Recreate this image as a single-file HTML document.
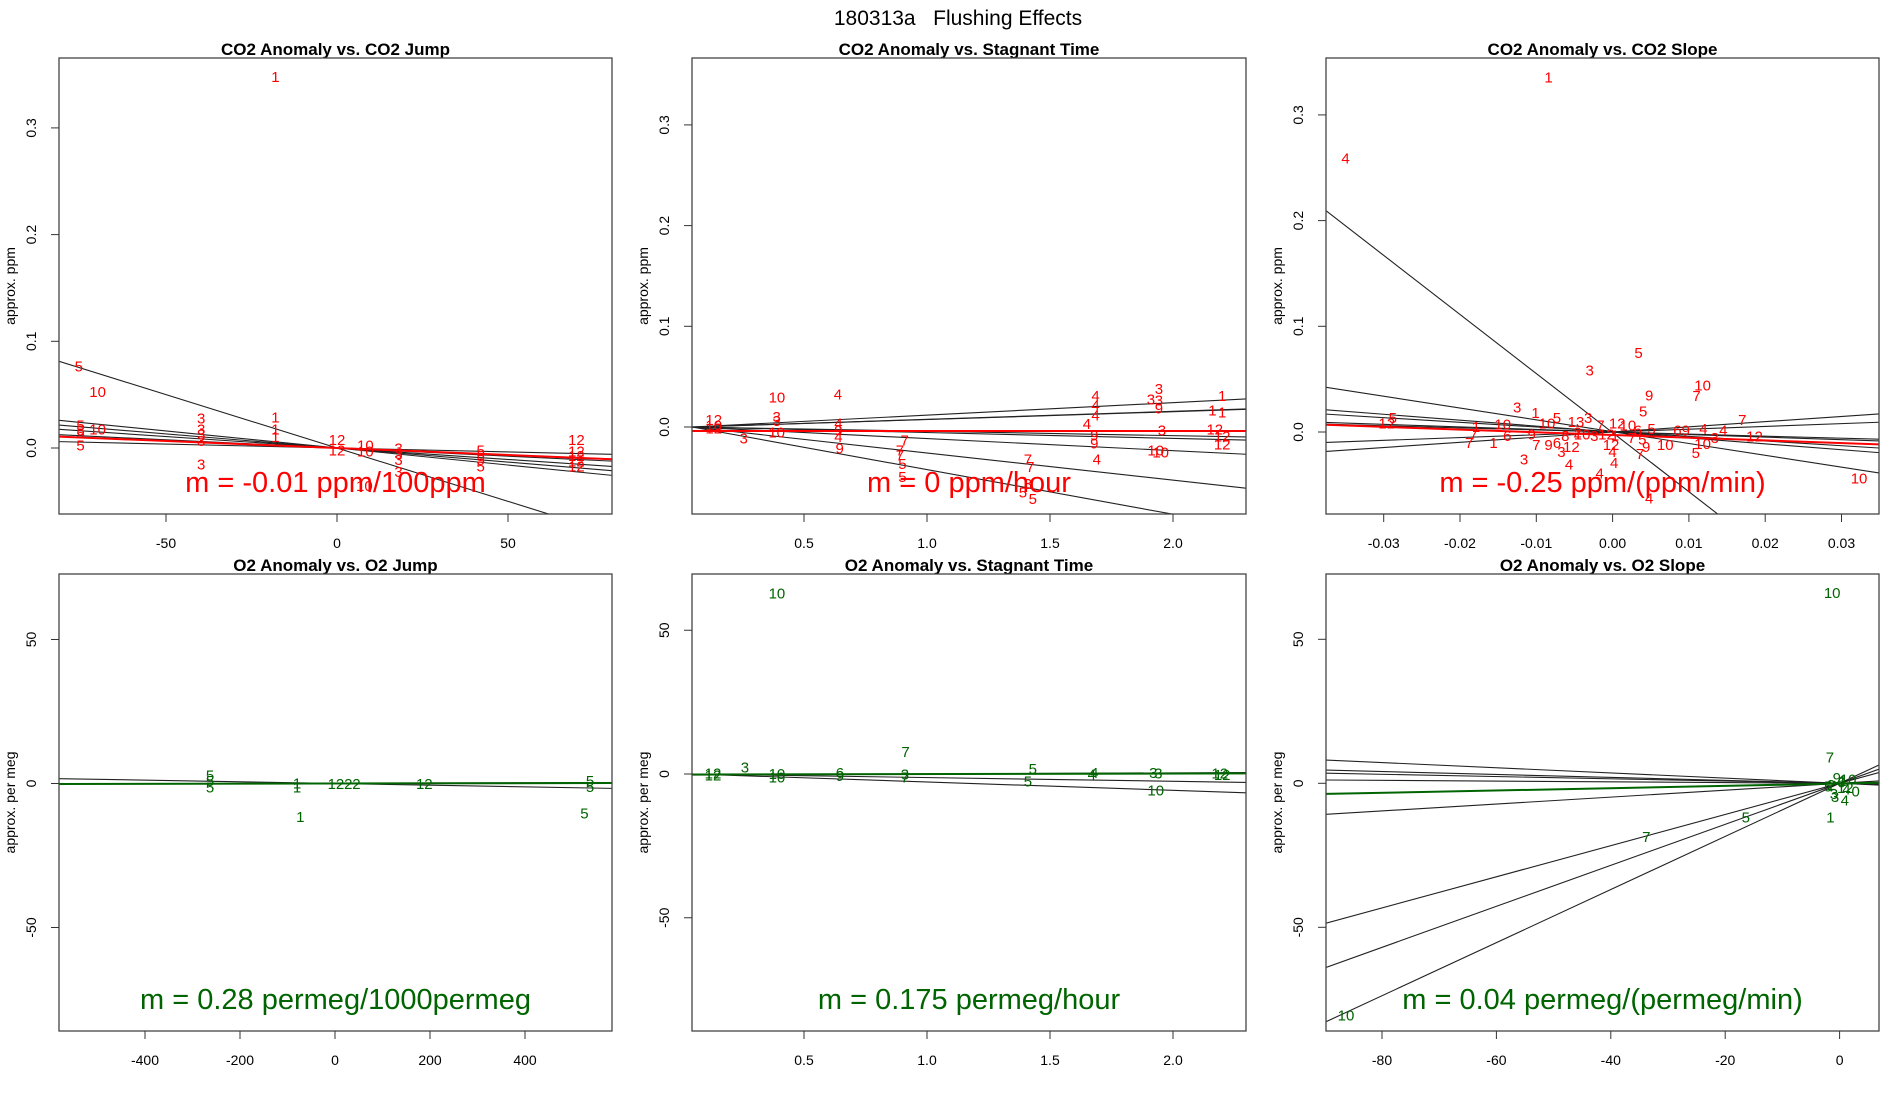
<!DOCTYPE html>
<html><head><meta charset="utf-8"><style>
html,body{margin:0;padding:0;background:#fff;}
svg{display:block;font-family:"Liberation Sans",sans-serif;}
</style></head><body>
<svg id="chart" width="1900" height="1100" viewBox="0 0 1900 1100">
<text x="958" y="25" text-anchor="middle" font-size="21" fill="#000" xml:space="preserve" style="white-space:pre">180313a   Flushing Effects</text>
</svg>
<script>
// ---------- Panel 1: CO2 Anomaly vs CO2 Jump ----------
const p1Labels=["1","5","10","5","3","10","5","5","3","3","3","3","3","1","1","1","12","12","10","10","3","3","3","3","10","5","5","5","5","12","12","12","12","12"];
const p1X=[-18,-75.5,-70,-75,-75,-70,-75,-75,-39.7,-39.7,-39.7,-39.7,-39.7,-18,-18,-18,0,0,8.3,8.3,18,18,18,18,8,42,42,42,42,70,70,70,70,70];
const p1Y=[0.348,0.077,0.053,0.0215,0.017,0.018,0.014,0.003,0.028,0.018,0.013,0.007,-0.015,0.029,0.018,0.011,0.008,-0.002,0.003,-0.003,0,-0.005,-0.011,-0.022,-0.035,-0.002,-0.007,-0.011,-0.017,0.008,-0.003,-0.007,-0.012,-0.017];
const p1LineSlopes=[-0.001,-0.000319,-0.000264,-0.000215,-0.000153,-0.0000736];
const p1LineInts=[0,0,0,0,0,0];
const p1FitSlope=-0.000131, p1FitInt=0;
const p1XTicks=[-50,0,50], p1YTicks=[0,0.1,0.2,0.3];
const p1YTickLabels=["0.0","0.1","0.2","0.3"];

// ---------- Panel 2: CO2 Anomaly vs Stagnant Time ----------
const p2Labels=["12","12","10","3","10","3","3","10","4","4","9","4","9","7","7","7","5","5","7","7","5","5","3","4","4","4","4","9","9","4","3","3","3","9","3","10","10","1","1","1","12","12","12"];
const p2X=[0.133,0.133,0.133,0.255,0.39,0.389,0.389,0.389,0.638,0.64,0.64,0.64,0.645,0.909,0.89,0.89,0.9,0.9,1.41,1.42,1.39,1.43,1.41,1.685,1.685,1.685,1.65,1.68,1.68,1.69,1.943,1.91,1.943,1.943,1.955,1.93,1.95,2.2,2.16,2.2,2.17,2.2,2.2];
const p2Y=[0.0076,-0.001,0.002,-0.011,0.03,0.0106,0.0066,-0.005,0.033,0.004,-0.003,-0.0096,-0.021,-0.013,-0.023,-0.028,-0.036,-0.049,-0.032,-0.039,-0.0645,-0.071,-0.056,0.0315,0.0216,0.0117,0.0035,-0.008,-0.016,-0.032,0.038,0.028,0.027,0.019,-0.003,-0.023,-0.025,0.0315,0.0168,0.015,-0.002,-0.009,-0.017];
const p2LineSlopes=[0.0124,0.008,0.0078,-0.0044,-0.0058,-0.012,-0.027,-0.0443];
const p2LineInts=[-0.0006,-0.0004,-0.0004,0.0002,0.0003,0.0005,0.0012,0.002];
const p2FitSlope=0, p2FitInt=-0.004;
const p2XTicks=[0.5,1.0,1.5,2.0], p2XTickLabels=["0.5","1.0","1.5","2.0"];
const p2YTicks=[0,0.1,0.2,0.3], p2YTickLabels=["0.0","0.1","0.2","0.3"];

// ---------- Panel 3: CO2 Anomaly vs CO2 Slope ----------
const p3Labels=["1","4","5","3","10","7","9","5","3","1","10","5","12","7","4","4","12","3","10","5","10","4","4","4","4","3","1","7","7","1","6","9","7","9","6","3","12","10","5","13","3","7","12","10","6","5","6","9","10","3","12","1","7","5","10","12","4","7","9","8","2"];
const p3X=[-0.0084,-0.035,0.0034,-0.003,0.0118,0.011,0.0048,0.004,-0.0125,-0.0101,-0.0144,-0.0288,-0.0296,0.017,0.0119,0.0145,0.0186,0.0134,0.0118,0.0109,0.0323,0.0048,-0.0017,-0.0057,0.0002,-0.0116,-0.0179,-0.0182,-0.0188,-0.0156,-0.0138,-0.0106,-0.01,-0.0084,-0.0073,-0.0067,-0.0054,-0.0086,-0.0073,-0.0048,-0.0032,-0.0016,0.0006,0.002,0.0033,0.0051,0.0085,0.0096,-0.004,-0.0024,-0.0008,0.0003,0.0025,0.0039,0.0069,-0.0002,0,0.0036,0.0044,-0.0062,-0.0046];
const p3Y=[0.336,0.259,0.0754,0.0585,0.0446,0.0345,0.0348,0.02,0.0237,0.0186,0.0074,0.0135,0.0085,0.0118,0.0034,0.0017,-0.004,-0.005,-0.0108,-0.0196,-0.0433,-0.0625,-0.0389,-0.0304,-0.0287,-0.0254,0.005,-0.0017,-0.0101,-0.0101,-0.0034,-0.0017,-0.0118,-0.0118,-0.0101,-0.0186,-0.0135,0.0085,0.0135,0.0101,0.0135,0.0068,0.0085,0.0068,0.0017,0.0034,0.0017,0.0017,-0.0017,-0.0034,-0.0017,-0.0027,-0.005,-0.0068,-0.0118,-0.0118,-0.0186,-0.0203,-0.0135,-0.0034,0];
const p3LineSlopes=[-5.59,-1.118,-0.559,-0.442,-0.242,-0.196,0.264,0.489];
const p3LineInts=[-0.0006,0.0003,0,0.0003,0,0,0,0];
const p3FitSlope=-0.256, p3FitInt=-0.0028;
const p3XTicks=[-0.03,-0.02,-0.01,0,0.01,0.02,0.03], p3XTickLabels=["-0.03","-0.02","-0.01","0.00","0.01","0.02","0.03"];
const p3YTicks=[0,0.1,0.2,0.3], p3YTickLabels=["0.0","0.1","0.2","0.3"];

// ---------- Panel 4: O2 Anomaly vs O2 Jump ----------
const p4Labels=["5","5","5","1","1","1","12","2","2","12","5","5","5"];
const p4X=[-263,-263,-263,-80,-80,-73,2,28,45,188,537,537,525];
const p4Y=[3.0,1.1,-1.2,0.2,-1.2,-11.5,0,0,0,0,1,-1,-10.3];
const p4LineSlopes=[-0.0029,0.0004];
const p4LineInts=[0,0.1];
const p4FitSlope=0.00028, p4FitInt=0;
const p4XTicks=[-400,-200,0,200,400], p4XTickLabels=["-400","-200","0","200","400"];
const p4YTicks=[-50,0,50], p4YTickLabels=["-50","0","50"];

// ---------- Panel 5: O2 Anomaly vs Stagnant Time ----------
const p5Labels=["10","7","3","12","12","10","10","6","9","7","3","5","5","4","4","3","3","10","12","12"];
const p5X=[0.39,0.913,0.26,0.13,0.13,0.39,0.39,0.646,0.646,0.91,0.91,1.43,1.41,1.67,1.68,1.92,1.94,1.93,2.19,2.2];
const p5Y=[63,7.9,2.5,-0.4,0.4,-1.0,0.2,0.5,-0.5,-1,0,2.0,-2.5,0,0.6,0.5,0.3,-5.6,0.3,-0.2];
const p5LineSlopes=[-1.3,-2.9,0.4,0.1];
const p5LineInts=[0.06,0.13,-0.4,-0.1];
const p5FitSlope=0.175, p5FitInt=-0.2;
const p5XTicks=[0.5,1.0,1.5,2.0], p5XTickLabels=["0.5","1.0","1.5","2.0"];
const p5YTicks=[-50,0,50], p5YTickLabels=["-50","0","50"];

// ---------- Panel 6: O2 Anomaly vs O2 Slope ----------
const p6Labels=["10","7","5","7","1","10","4","10","3","5","6","9","12","2","1","3","4","0"];
const p6X=[-1.3,-1.7,-16.4,-33.8,-1.6,-86.3,0.9,1.5,-1.0,-2.0,0.3,-0.5,1.0,-1.5,0.5,-0.8,1.2,2.8];
const p6Y=[66.2,9.2,-11.7,-18.5,-11.7,-80.5,-5.8,1.5,-3.5,-1.0,0.5,2.0,-1.5,-0.5,1.0,-4.5,-2,-2.7];
const p6LineSlopes=[-0.09,-0.051,-0.039,-0.0128,0.12,0.541,0.712,0.922];
const p6LineInts=[0,0,0,0,0,0,0,0];
const p6FitSlope=0.04, p6FitInt=-0.1;
const p6XTicks=[-80,-60,-40,-20,0], p6XTickLabels=["-80","-60","-40","-20","0"];
const p6YTicks=[-50,0,50], p6YTickLabels=["-50","0","50"];

const NS="http://www.w3.org/2000/svg";
const svg=document.getElementById('chart');
function mk(tag,attrs,parent){const e=document.createElementNS(NS,tag);for(const k in attrs)e.setAttribute(k,attrs[k]);(parent||svg).appendChild(e);return e;}

function makePanel(cfg){
  const g=mk('g',{});
  
  
  const sx=v=>cfg.x0px+(v-cfg.x0v)*cfg.xk;
  const sy=v=>cfg.y0px-(v-cfg.y0v)*cfg.yk;
  const inv=px=>cfg.x0v+(px-cfg.x0px)/cfg.xk;
  const clipId='clip-'+cfg.name;
  const cp=mk('clipPath',{id:clipId},g);
  mk('rect',{x:cfg.L,y:cfg.T,width:cfg.R-cfg.L,height:cfg.B-cfg.T},cp);
  const t=mk('text',{x:(cfg.L+cfg.R)/2,y:cfg.T-3,'text-anchor':'middle','font-size':17,'font-weight':'bold'},g);
  t.textContent=cfg.title;
  
  
  const yx=cfg.L-44, ym=(cfg.T+cfg.B)/2;
  const yt=mk('text',{x:yx,y:ym,'text-anchor':'middle','font-size':14,transform:`rotate(-90 ${yx} ${ym})`},g);
  yt.textContent=cfg.ylab;
  
  
  const lg=mk('g',{'clip-path':`url(#${clipId})`},g);
  const xa=inv(cfg.L), xb=inv(cfg.R);
  cfg.slopes.forEach((s,i)=>{
    const b=cfg.ints[i];
    const l=mk('line',{x1:sx(xa),y1:sy(b+s*xa),x2:sx(xb),y2:sy(b+s*xb),stroke:'#222','stroke-width':1.1},lg);
    
    
  });
  const fl=mk('line',{x1:sx(xa),y1:sy(cfg.fitInt+cfg.fitSlope*xa),x2:sx(xb),y2:sy(cfg.fitInt+cfg.fitSlope*xb),stroke:cfg.color,'stroke-width':2},lg);
  
  
  const pg=mk('g',{'clip-path':`url(#${clipId})`},g);
  cfg.labels.forEach((lab,i)=>{
    const p=mk('text',{x:sx(cfg.xs[i]),y:sy(cfg.ys[i])+5.5,'text-anchor':'middle','font-size':15,fill:cfg.color},pg);
    p.textContent=lab;
    
    
  });
  const m=mk('text',{x:(cfg.L+cfg.R)/2,y:cfg.B-22,'text-anchor':'middle','font-size':29,fill:cfg.color},g);
  m.textContent=cfg.mtext;
  
  
  const bx=mk('rect',{x:cfg.L,y:cfg.T,width:cfg.R-cfg.L,height:cfg.B-cfg.T,fill:'none',stroke:'#444','stroke-width':1.3},g);
  
  
  cfg.xt.forEach((v,i)=>{
    const x=sx(v);
    const tk=mk('line',{x1:x,y1:cfg.B,x2:x,y2:cfg.B+8,stroke:'#333','stroke-width':1},g);
    
    
    const tl=mk('text',{x:x,y:cfg.B+34,'text-anchor':'middle','font-size':14},g);
    tl.textContent=cfg.xtl[i];
    
    
  });
  cfg.yt.forEach((v,i)=>{
    const y=sy(v);
    const tk=mk('line',{x1:cfg.L-8,y1:y,x2:cfg.L,y2:y,stroke:'#333','stroke-width':1},g);
    
    
    const xx=cfg.L-23;
    const tl=mk('text',{x:xx,y:y,'text-anchor':'middle','font-size':14,transform:`rotate(-90 ${xx} ${y})`},g);
    tl.textContent=cfg.ytl[i];
    
    
  });
}
const RED='#ff0000', GRN='#006400';
makePanel({name:'co2-vs-co2-jump',title:'CO2 Anomaly vs. CO2 Jump',ylab:'approx. ppm',color:RED,L:59,R:612,T:58,B:514,
  x0px:337,x0v:0,xk:3.42,y0px:448,y0v:0,yk:1067,labels:p1Labels,xs:p1X,ys:p1Y,slopes:p1LineSlopes,ints:p1LineInts,fitSlope:p1FitSlope,fitInt:p1FitInt,
  xt:p1XTicks,xtl:p1XTicks.map(String),yt:p1YTicks,ytl:p1YTickLabels,mtext:'m = -0.01 ppm/100ppm'});
makePanel({name:'co2-vs-stagnant-time',title:'CO2 Anomaly vs. Stagnant Time',ylab:'approx. ppm',color:RED,L:692,R:1246,T:58,B:514,
  x0px:804,x0v:0.5,xk:246,y0px:427,y0v:0,yk:1007,labels:p2Labels,xs:p2X,ys:p2Y,slopes:p2LineSlopes,ints:p2LineInts,fitSlope:p2FitSlope,fitInt:p2FitInt,
  xt:p2XTicks,xtl:p2XTickLabels,yt:p2YTicks,ytl:p2YTickLabels,mtext:'m = 0 ppm/hour'});
makePanel({name:'co2-vs-co2-slope',title:'CO2 Anomaly vs. CO2 Slope',ylab:'approx. ppm',color:RED,L:1326,R:1879,T:58,B:514,
  x0px:1612.6,x0v:0,xk:7630,y0px:432,y0v:0,yk:1057,labels:p3Labels,xs:p3X,ys:p3Y,slopes:p3LineSlopes,ints:p3LineInts,fitSlope:p3FitSlope,fitInt:p3FitInt,
  xt:p3XTicks,xtl:p3XTickLabels,yt:p3YTicks,ytl:p3YTickLabels,mtext:'m = -0.25 ppm/(ppm/min)'});
makePanel({name:'o2-vs-o2-jump',title:'O2 Anomaly vs. O2 Jump',ylab:'approx. per meg',color:GRN,L:59,R:612,T:574,B:1031,
  x0px:335,x0v:0,xk:0.475,y0px:783.5,y0v:0,yk:2.88,labels:p4Labels,xs:p4X,ys:p4Y,slopes:p4LineSlopes,ints:p4LineInts,fitSlope:p4FitSlope,fitInt:p4FitInt,
  xt:p4XTicks,xtl:p4XTickLabels,yt:p4YTicks,ytl:p4YTickLabels,mtext:'m = 0.28 permeg/1000permeg'});
makePanel({name:'o2-vs-stagnant-time',title:'O2 Anomaly vs. Stagnant Time',ylab:'approx. per meg',color:GRN,L:692,R:1246,T:574,B:1031,
  x0px:804,x0v:0.5,xk:246,y0px:774,y0v:0,yk:2.875,labels:p5Labels,xs:p5X,ys:p5Y,slopes:p5LineSlopes,ints:p5LineInts,fitSlope:p5FitSlope,fitInt:p5FitInt,
  xt:p5XTicks,xtl:p5XTickLabels,yt:p5YTicks,ytl:p5YTickLabels,mtext:'m = 0.175 permeg/hour'});
makePanel({name:'o2-vs-o2-slope',title:'O2 Anomaly vs. O2 Slope',ylab:'approx. per meg',color:GRN,L:1326,R:1879,T:574,B:1031,
  x0px:1839.6,x0v:0,xk:5.72,y0px:783.3,y0v:0,yk:2.88,labels:p6Labels,xs:p6X,ys:p6Y,slopes:p6LineSlopes,ints:p6LineInts,fitSlope:p6FitSlope,fitInt:p6FitInt,
  xt:p6XTicks,xtl:p6XTickLabels,yt:p6YTicks,ytl:p6YTickLabels,mtext:'m = 0.04 permeg/(permeg/min)'});
</script>
</body></html>
